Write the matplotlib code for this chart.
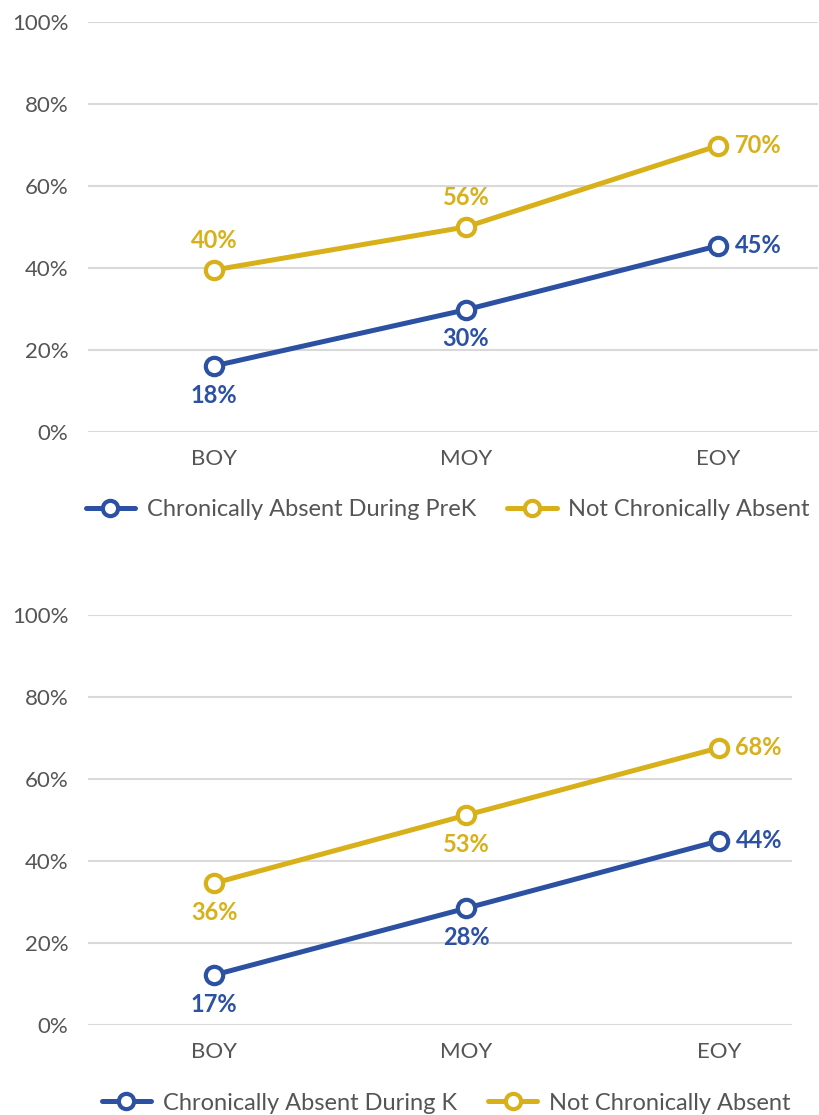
import matplotlib.pyplot as plt
from matplotlib.lines import Line2D

plt.rcParams['font.family'] = ['Lato', 'DejaVu Sans']

periods = ['BOY', 'MOY', 'EOY']

# top panel (PreK) - plotted positions and printed labels
prek_absent = [16.1, 29.8, 45.4]
prek_absent_labels = ['18%', '30%', '45%']
prek_not = [39.5, 50.0, 69.8]
prek_not_labels = ['40%', '56%', '70%']

# bottom panel (K)
k_absent = [12.2, 28.5, 44.9]
k_absent_labels = ['17%', '28%', '44%']
k_not = [34.6, 51.2, 67.6]
k_not_labels = ['36%', '53%', '68%']

yticks = [0, 20, 40, 60, 80, 100]

BLUE = '#2c51a3'
GOLD = '#d8b01a'
GREY = '#555555'
GRID = '#d9d9d9'

fig = plt.figure(figsize=(8.2, 11.15), dpi=100)


def draw_panel(ax, absent, absent_lbl, notabs, notabs_lbl, places_abs, places_not, xmax):
    x = list(range(len(periods)))
    for vals, col in [(absent, BLUE), (notabs, GOLD)]:
        ax.plot(x, vals, color=col, lw=3.6, marker='o', ms=12.5,
                mfc='white', mec=col, mew=3.0, zorder=3, solid_capstyle='round')
    for vals, lbls, col, places in [(absent, absent_lbl, BLUE, places_abs),
                                    (notabs, notabs_lbl, GOLD, places_not)]:
        for xi, v, t, p in zip(x, vals, lbls, places):
            if p == 'above':
                off, ha = (0, 21), 'center'
            elif p == 'below':
                off, ha = (0, -21), 'center'
            else:
                off, ha = (12, 0), 'left'
            ax.annotate(t, (xi, v), xytext=off, textcoords='offset points',
                        ha=ha, va='center', color=col, fontsize=17, fontweight='bold')
    ax.set_ylim(0, 100)
    ax.set_xlim(-0.5, xmax)
    ax.set_yticks(yticks)
    ax.set_yticklabels([f'{t}%' for t in yticks])
    ax.set_xticks(x)
    ax.set_xticklabels(periods)
    ax.grid(axis='y', color=GRID, lw=1.5)
    ax.set_axisbelow(True)
    for s in ax.spines.values():
        s.set_visible(False)
    ax.tick_params(length=0, labelsize=16, labelcolor=GREY)
    ax.tick_params(axis='y', pad=14)
    ax.tick_params(axis='x', pad=12)


ax1 = fig.add_axes([0.1073, 0.6126, 0.890, 0.3677])
draw_panel(ax1, prek_absent, prek_absent_labels, prek_not, prek_not_labels,
           ['below', 'below', 'right'], ['above', 'above', 'right'], 2.397)

ax2 = fig.add_axes([0.1073, 0.0807, 0.8585, 0.3677])
draw_panel(ax2, k_absent, k_absent_labels, k_not, k_not_labels,
           ['below', 'below', 'right'], ['below', 'below', 'right'], 2.29)


def handle(col):
    return Line2D([], [], color=col, lw=3.6, marker='o', ms=11,
                  mfc='white', mec=col, mew=3.0, solid_capstyle='round')


leg_kw = dict(frameon=False, ncol=2, fontsize=17, labelcolor=GREY,
              handlelength=2.1, handletextpad=0.5, columnspacing=1.3)

fig.legend([handle(BLUE), handle(GOLD)],
           ['Chronically Absent During PreK', 'Not Chronically Absent'],
           loc='center', bbox_to_anchor=(0.546, 1 - 510 / 1115), **leg_kw)
fig.legend([handle(BLUE), handle(GOLD)],
           ['Chronically Absent During K', 'Not Chronically Absent'],
           loc='center', bbox_to_anchor=(0.544, 1 - 1103 / 1115), **leg_kw)

fig.savefig('out.png', dpi=100)
